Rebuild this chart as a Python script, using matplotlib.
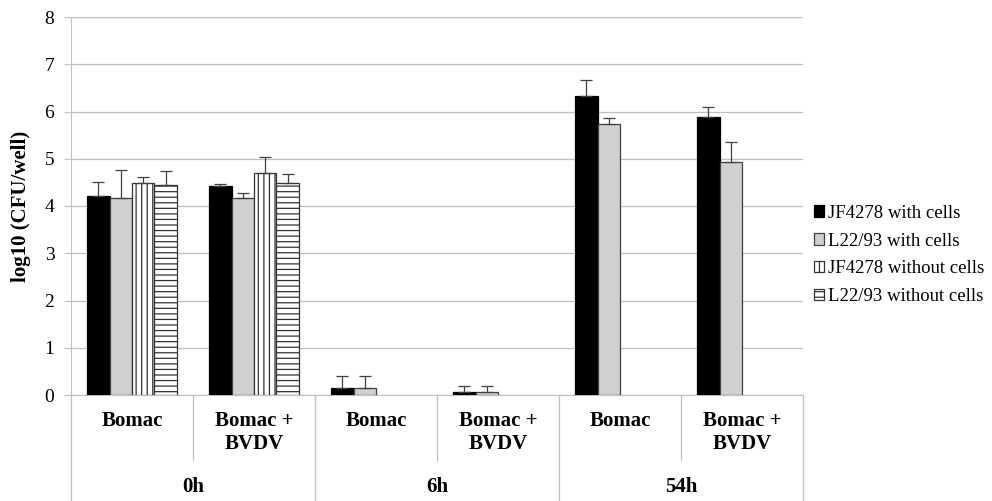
import numpy as np
import matplotlib
matplotlib.use('Agg')
import matplotlib.pyplot as plt
import matplotlib.transforms as mtransforms

plt.rcParams['font.family'] = ['Liberation Serif', 'DejaVu Serif']
plt.rcParams['hatch.linewidth'] = 0.9

# --- 数据 ---
time_points = ['0h', '6h', '54h']
cell_types = ['Bomac', 'Bomac +\nBVDV', 'Bomac', 'Bomac +\nBVDV', 'Bomac', 'Bomac +\nBVDV']
series_names = ['JF4278 with cells', 'L22/93 with cells',
                'JF4278 without cells', 'L22/93 without cells']

jf_with = [4.21, 4.42, 0.14, 0.06, 6.33, 5.88]
jf_with_err = [0.30, 0.05, 0.27, 0.13, 0.34, 0.22]
l22_with = [4.17, 4.17, 0.14, 0.07, 5.74, 4.93]
l22_with_err = [0.59, 0.10, 0.27, 0.12, 0.12, 0.42]
jf_without = [4.49, 4.70, np.nan, np.nan, np.nan, np.nan]
jf_without_err = [0.12, 0.34, 0, 0, 0, 0]
l22_without = [4.44, 4.49, np.nan, np.nan, np.nan, np.nan]
l22_without_err = [0.30, 0.19, 0, 0, 0, 0]

W, H = 992, 501
fig = plt.figure(figsize=(W / 100, H / 100), dpi=100)
ax = fig.add_axes([71 / W, (H - 395) / H, 732 / W, 378 / H])

x = np.arange(len(cell_types))
bw = 0.184
values = [jf_with, l22_with, jf_without, l22_without]
errs = [jf_with_err, l22_with_err, jf_without_err, l22_without_err]
faces = ['black', '#d0d0d0', 'white', 'white']
edges = ['black', '#404040', '#333333', '#333333']
hatches = [None, None, '|||', '---']

handles = []
for i in range(4):
    v = np.array(values[i], dtype=float)
    e = np.array(errs[i], dtype=float)
    e = np.where(np.isnan(v), np.nan, e)
    pos = x - 2 * bw + i * bw
    b = ax.bar(pos, v, width=bw, align='edge', color=faces[i], edgecolor=edges[i],
               linewidth=0.9, hatch=hatches[i], label=series_names[i], zorder=3)
    ax.errorbar(pos + bw / 2, v, yerr=[np.zeros_like(e), e], fmt='none',
                ecolor='#404040', elinewidth=0.9, capsize=4, capthick=0.9, zorder=4)
    handles.append(b)

ax.set_xlim(-0.5, 5.5)
ax.set_ylim(0, 8)
ax.set_yticks(range(0, 9))
ax.set_xticks([])
ax.grid(axis='y', color='#bfbfbf', linewidth=0.9, zorder=0)
for s in ['top', 'right']:
    ax.spines[s].set_visible(False)
ax.spines['left'].set_color('#bfbfbf')
ax.spines['bottom'].set_color('#bfbfbf')
ax.tick_params(axis='y', length=5, color='#bfbfbf', labelsize=14, pad=7)
ax.set_ylabel('log10 (CFU/well)', fontsize=15, fontweight='bold', labelpad=10)

# 多级分类轴
tr = mtransforms.blended_transform_factory(ax.transData, fig.transFigure)
def fy(px):
    return 1 - px / H

for xi in [-0.5, 1.5, 3.5, 5.5]:
    ax.plot([xi, xi], [fy(395), fy(501)], transform=tr, color='#bfbfbf', lw=0.9, clip_on=False)
for xi in [0.5, 2.5, 4.5]:
    ax.plot([xi, xi], [fy(395), fy(460)], transform=tr, color='#bfbfbf', lw=0.9, clip_on=False)

for xi, lab in zip(x, cell_types):
    ax.text(xi, fy(411), lab, transform=tr, ha='center', va='top', fontsize=15,
            fontweight='bold', linespacing=1.2)
for k, tp in enumerate(time_points):
    ax.text(2 * k + 0.5, fy(487), tp, transform=tr, ha='center', va='center',
            fontsize=15, fontweight='bold')

fig.legend(handles=handles, loc='center left', bbox_to_anchor=(806 / W, fy(255)),
           frameon=False, fontsize=13.5, handlelength=0.55, handleheight=0.55,
           handletextpad=0.25, labelspacing=0.58, borderaxespad=0)

fig.savefig('out.png', dpi=100)
